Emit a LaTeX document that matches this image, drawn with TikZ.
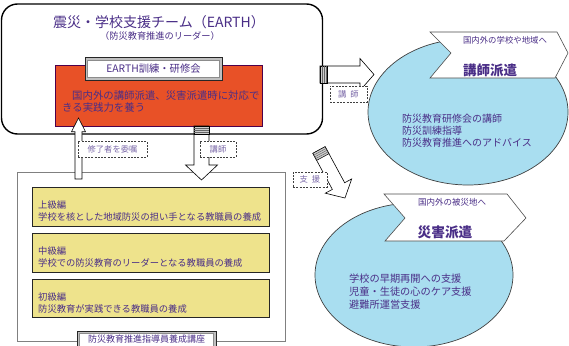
\documentclass[tikz,border=0pt]{standalone}
\usepackage{fontspec}
\setmainfont{Noto Sans CJK JP}
\usetikzlibrary{shapes.geometric}
\definecolor{txt}{HTML}{4A2E87}
\definecolor{lbl}{HTML}{7A68A8}
\definecolor{redf}{HTML}{E85127}
\definecolor{yel}{HTML}{EEE38C}
\definecolor{cyanf}{HTML}{A9DEF0}
% #1 x, #2 y, #3 angle, #4 length, #5 shaft half, #6 head half, #7 head length
\newcommand\blockarr[7]{%
  \begin{scope}[shift={(#1,#2)},rotate=#3]
    \draw[fill=white, line width=0.6pt, line join=miter] (0,-#5) -- ({#4-#7},-#5) -- ({#4-#7},-#6) -- (#4,0) -- ({#4-#7},#6) -- ({#4-#7},#5) -- (0,#5) -- cycle;
  \end{scope}}
% #1 x, #2 y, #3 angle, #4 half width, #5 length
\newcommand\stripeend[5]{%
  \begin{scope}[shift={(#1,#2)},rotate=#3]
    \draw[fill=black!20, line width=0.5pt] (0,-#4) rectangle (#5,#4);
    \foreach \s in {2,4,6} {\draw[black!60, line width=0.5pt] (\s,-#4) -- (\s,#4);}
  \end{scope}}
\begin{document}
\begin{tikzpicture}[x=1pt,y=-1pt,
  lab/.style={draw=black!75, dashed, dash pattern=on 2pt off 1.3pt, fill=white, text=lbl, font=\fontsize{8.3}{10}\selectfont, inner sep=0pt},
  ybox/.style={draw=black!85, line width=0.8pt, fill=yel, minimum width=237pt, inner sep=0pt},
  ytext/.style={anchor=west, align=left, text=txt, font=\fontsize{9.3}{12}\selectfont, inner sep=0pt},
  etext/.style={anchor=west, align=left, text=txt, inner sep=0pt}]
\useasboundingbox (0,0) rectangle (569,345);
\clip (0,0) rectangle (569,345);

% team box
\node[draw, line width=1.4pt, rounded corners=16pt, fill=white, minimum width=321pt, minimum height=130pt, inner sep=0pt] (team) at (162,69) {};
\node[text=txt, font=\fontsize{14}{16}\selectfont, inner sep=0pt] (title) at (159,22) {震災・学校支援チーム（EARTH）};
\node[text=txt, font=\fontsize{9.2}{11}\selectfont, inner sep=0pt] (subtitle) at (160,36) {（防災教育推進のリーダー）};

% red box
\node[draw=violet!60!black, line width=0.6pt, fill=redf, minimum width=207pt, minimum height=61pt, inner sep=0pt] (red) at (158.5,95.5) {};
\node[anchor=north west, align=left, text=txt, font=\fontsize{10.4}{12}\selectfont, inner sep=0pt] (redtext) at (62,91) {\hspace*{10pt}国内外の講師派遣、災害派遣時に対応で\\きる実践力を養う};
\node[draw=black!85, fill=black!25, line width=0.6pt, minimum width=137pt, minimum height=23pt, inner sep=0pt] (earthframe) at (153.5,68.5) {};
\node[draw=black!45, fill=white, line width=0.5pt, minimum width=132pt, minimum height=17.5pt, inner sep=0pt, text=txt, font=\fontsize{10.3}{12}\selectfont] (earth) at (153.5,68.5) {EARTH訓練・研修会};

% course box
\node[draw=black!50, line width=0.9pt, minimum width=268pt, minimum height=169pt, inner sep=0pt] (course) at (151,256.5) {};
\node[ybox, minimum height=39pt] (adv) at (150.5,206.5) {};
\node[ytext] (advt) at (38,211) {上級編\\学校を核とした地域防災の担い手となる教職員の養成};
\node[ybox, minimum height=39pt] (mid) at (150.5,252.5) {};
\node[ytext] (midt) at (38,257) {中級編\\学校での防災教育のリーダーとなる教職員の養成};
\node[ybox, minimum height=38pt] (beg) at (150.5,298) {};
\node[ytext] (begt) at (38,303) {初級編\\防災教育が実践できる教職員の養成};
\node[draw=black!85, fill=black!25, line width=0.6pt, minimum width=139pt, minimum height=28pt, inner sep=0pt] (courseframe) at (146.5,345) {};
\node[draw=black!45, fill=white, line width=0.5pt, minimum width=134pt, minimum height=23pt, inner sep=0pt] (courseinner) at (146.5,345) {};
\node[text=txt, font=\fontsize{9}{11}\selectfont, inner sep=0pt] (coursename) at (146.5,339.5) {防災教育推進指導員養成講座};

% ellipses
\node[ellipse, draw=black!75, line width=0.7pt, fill=cyanf, minimum width=200pt, minimum height=146pt, inner sep=0pt] (lecture) at (468,112) {};
\node[ellipse, draw=black!75, line width=0.7pt, fill=cyanf, minimum width=198pt, minimum height=144pt, inner sep=0pt] (disaster) at (414,275) {};

% banners
\draw[fill=white, draw=black!70, line width=0.6pt] (430,32) -- (557,32) -- (568,53) -- (555,78) -- (430,78) -- (451,53) -- cycle;
\draw[fill=white, draw=black!70, line width=0.6pt] (384,194) -- (507,194) -- (526,218) -- (504,241) -- (385,241) -- (405,218) -- cycle;
\node[text=txt, font=\fontsize{8.4}{10}\selectfont, inner sep=0pt] (lecdest) at (505,40) {国内外の学校や地域へ};
\node[text=txt, font=\fontsize{13.5}{15}\selectfont\bfseries, inner sep=0pt] (lecname) at (490,70) {講師派遣};
\node[text=txt, font=\fontsize{8.5}{10}\selectfont, inner sep=0pt] (disdest) at (452,202) {国内外の被災地へ};
\node[text=txt, font=\fontsize{13.7}{15}\selectfont\bfseries, inner sep=0pt] (disname) at (445,232) {災害派遣};
\node[etext, font=\fontsize{10}{11.7}\selectfont] (lectext) at (402,130.6) {防災教育研修会の講師\\防災訓練指導\\防災教育推進へのアドバイス};
\node[etext, font=\fontsize{10.2}{13}\selectfont] (distext) at (349,292) {学校の早期再開への支援\\児童・生徒の心のケア支援\\避難所運営支援};

% arrows
\blockarr{78.5}{179}{90}{61}{3.5}{7}{13.7}
\blockarr{201.5}{126}{-90}{54}{7.5}{16}{15}
\stripeend{201.5}{126}{-90}{7.5}{8}
\blockarr{320}{74.5}{0}{54}{8.5}{16}{14}
\stripeend{320}{74.5}{0}{8.5}{7}
\blockarr{319}{150}{-61.6}{54.6}{7}{15}{13.6}
\stripeend{319}{150}{-61.6}{7}{8}

% labels
\node[lab, minimum width=69pt, minimum height=16pt] (l1) at (112.5,149) {修了者を委嘱};
\node[lab, minimum width=36pt, minimum height=16pt] (l2) at (218,149) {講師};
\node[lab, minimum width=37pt, minimum height=16pt] (l3) at (348.5,94) {講\hspace{4pt}師};
\node[lab, minimum width=34pt, minimum height=15pt] (l4) at (310,179.5) {支\hspace{4pt}援};
\end{tikzpicture}
\end{document}
